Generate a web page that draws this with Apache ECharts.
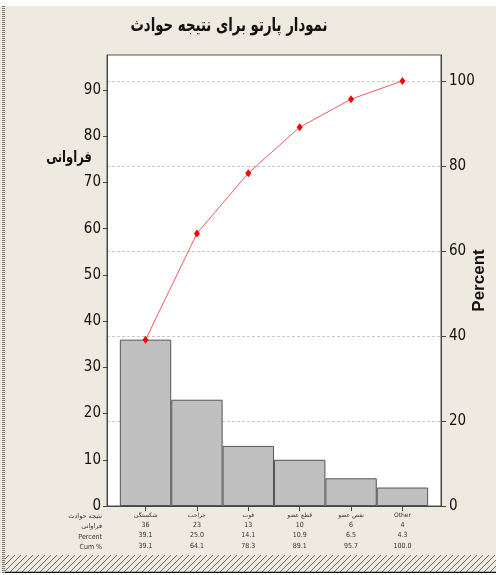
<!DOCTYPE html>
<html>
<head>
<meta charset="utf-8">
<script src="https://cdn.jsdelivr.net/npm/echarts@6/dist/echarts.min.js"></script>
<style>html,body{margin:0;padding:0;background:#fff;}#c{width:496px;height:575px;}</style>
</head>
<body>
<div id="c"></div>
<script>
const categories = ['شکستگی', 'جراحت', 'فوت', 'قطع عضو', 'نقص عضو', 'Other'];
const counts = [36, 23, 13, 10, 6, 4];
const percents = [39.1, 25.0, 14.1, 10.9, 6.5, 4.3];
const cumPercents = [39.1, 64.1, 78.3, 89.1, 95.7, 100.0];
const leftTicks = [0, 10, 20, 30, 40, 50, 60, 70, 80, 90];
const rightTicks = [0, 20, 40, 60, 80, 100];
const rowLabels = ['نتیجه حوادث', 'فراوانی', 'Percent', 'Cum %'];
const titleText = 'نمودار پارتو برای نتیجه حوادث';
const leftName = 'فراوانی';
const rightName = 'Percent';

const total = counts.reduce((a, b) => a + b, 0);
const leftMax = 97.6;
const rightMax = leftMax / total * 100;
const idx = categories.map((_, i) => i);

const narrow = "'Liberation Sans Narrow','DejaVu Sans Condensed','Liberation Sans',sans-serif";
const arabic = "'DejaVu Sans','Noto Sans',sans-serif";

// hatch pattern
const pc = document.createElement('canvas');
pc.width = 6; pc.height = 6;
const pctx = pc.getContext('2d');
pctx.fillStyle = '#eeeae0'; pctx.fillRect(0, 0, 6, 6);
pctx.strokeStyle = '#6a6a6a'; pctx.lineWidth = 1;
pctx.beginPath(); pctx.moveTo(0, 6); pctx.lineTo(6, 0); pctx.moveTo(-1, 1); pctx.lineTo(1, -1); pctx.moveTo(5, 7); pctx.lineTo(7, 5); pctx.stroke();

const chart = echarts.init(document.getElementById('c'));

const rowGraphics = rowLabels.map((t, r) => ({
  type: 'text', x: 102, y: 513 + r * 10.2,
  style: { text: t, font: (r < 2 ? '6.5px ' + arabic : '7px ' + narrow), fill: '#333', align: 'right', textAlign: 'right' }
}));

chart.setOption({
  backgroundColor: '#eeeae0',
  animation: false,
  grid: { left: 107, right: 55, top: 55, bottom: 69, show: true, backgroundColor: '#fff', borderColor: '#555', borderWidth: 1, outerBoundsMode: 'none', containLabel: false },
  xAxis: {
    type: 'value', min: -0.75, max: 5.75,
    axisLine: { show: true, onZero: false, lineStyle: { color: '#444' } },
    splitLine: { show: false },
    axisTick: { show: true, customValues: idx, length: 5, lineStyle: { color: '#444' } },
    axisLabel: {
      customValues: idx, margin: 4, lineHeight: 10.2,
      formatter: (v) => {
        const i = Math.round(v);
        return '{c|' + categories[i] + '}\n{n|' + counts[i] + '}\n{n|' + percents[i].toFixed(1) + '}\n{n|' + cumPercents[i].toFixed(1) + '}';
      },
      rich: {
        c: { fontFamily: arabic, fontSize: 6, color: '#333', lineHeight: 10.2 },
        n: { fontFamily: narrow, fontSize: 7, color: '#333', lineHeight: 10.2 }
      }
    }
  },
  yAxis: [
    {
      type: 'value', min: 0, max: leftMax, interval: 10, position: 'left',
      axisLine: { show: true, onZero: false, lineStyle: { color: '#444' } },
      axisTick: { show: true, customValues: leftTicks, length: 4, lineStyle: { color: '#444' } },
      axisLabel: { customValues: leftTicks, margin: 6, fontFamily: narrow, fontSize: 15, color: '#111' },
      splitLine: { show: false }
    },
    {
      type: 'value', min: 0, max: rightMax, interval: 20, position: 'right',
      name: rightName, nameLocation: 'middle', nameGap: 30, nameRotate: 90, nameMoveOverlap: false,
      nameTextStyle: { fontFamily: "'Liberation Sans',sans-serif", fontWeight: 'bold', fontSize: 17, color: '#111' },
      axisLine: { show: true, onZero: false, lineStyle: { color: '#444' } },
      axisTick: { show: true, customValues: rightTicks, length: 5, lineStyle: { color: '#444' } },
      axisLabel: { customValues: rightTicks, margin: 8, fontFamily: narrow, fontSize: 15, color: '#111' },
      splitLine: { show: true, lineStyle: { color: '#c8c8c8', type: [3, 2], width: 1 } }
    }
  ],
  series: [
    {
      type: 'bar', xAxisIndex: 0, yAxisIndex: 0, barWidth: 51.4,
      data: counts.map((v, i) => [i, v]),
      itemStyle: { color: '#c0c0c0', borderColor: '#555', borderWidth: 1 },
      z: 2
    },
    {
      type: 'line', xAxisIndex: 0, yAxisIndex: 1,
      data: cumPercents.map((v, i) => [i, v]),
      lineStyle: { color: '#f25a5a', width: 1 },
      symbol: 'diamond', symbolSize: [6, 8],
      itemStyle: { color: '#ff0000' },
      z: 3
    }
  ],
  graphic: [
    { type: 'rect', shape: { x: 0, y: 0, width: 496, height: 6 }, style: { fill: '#fff' }, z: -1, silent: true },
    { type: 'rect', shape: { x: 5, y: 555, width: 491, height: 17 }, style: { fill: { image: pc, repeat: 'repeat' } }, silent: true },
    { type: 'line', shape: { x1: 5, y1: 572.5, x2: 496, y2: 572.5 }, style: { stroke: '#111', lineWidth: 1.5 }, silent: true },
    { type: 'rect', shape: { x: 0, y: 573, width: 496, height: 2 }, style: { fill: '#fff' }, silent: true },
    { type: 'line', shape: { x1: 3.5, y1: 6, x2: 3.5, y2: 573 }, style: { stroke: '#777', lineWidth: 3, lineDash: [1, 1] }, silent: true },
    { type: 'text', x: 229, y: 26, scaleX: 0.7, style: { text: titleText, font: 'bold 19px ' + arabic, fill: '#111', align: 'center', verticalAlign: 'middle' } },
    { type: 'text', x: 69, y: 158, scaleX: 0.72, style: { text: leftName, font: 'bold 16px ' + arabic, fill: '#111', align: 'center', verticalAlign: 'middle' } }
  ].concat(rowGraphics)
});
</script>
</body>
</html>
